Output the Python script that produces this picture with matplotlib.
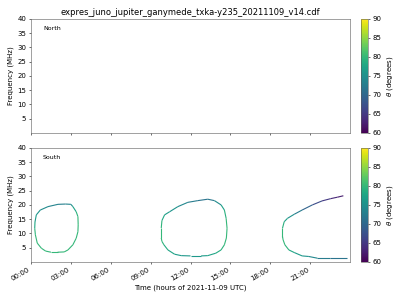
import numpy as np
import matplotlib
matplotlib.use("Agg")
import matplotlib.pyplot as plt
from matplotlib.collections import LineCollection
from matplotlib.cm import ScalarMappable
from matplotlib.colors import Normalize

TITLE = "expres_juno_jupiter_ganymede_txka-y235_20211109_v14.cdf"

# x tick positions (hours) and labels
hour_ticks = [0, 3, 6, 9, 12, 15, 18, 21]
hour_labels = ["00:00", "03:00", "06:00", "09:00", "12:00", "15:00", "18:00", "21:00"]
freq_ticks = [5, 10, 15, 20, 25, 30, 35, 40]
theta_ticks = [60, 65, 70, 75, 80, 85, 90]

# South hemisphere emission, three arcs: time (h), frequency (MHz), theta (deg)
loop1_t = [0.33, 0.28, 0.30, 0.40, 0.70, 1.28, 2.03, 2.60, 3.00, 3.15, 3.40, 3.53,
           3.55, 3.53, 3.40, 3.15, 2.78, 2.50, 2.00, 1.50, 1.10, 0.78, 0.47, 0.33]
loop1_f = [9.5, 11.8, 14.0, 16.5, 18.2, 19.4, 20.2, 20.3, 20.2, 19.4, 17.6, 15.9,
           13.0, 10.6, 8.3, 6.0, 4.2, 3.5, 3.4, 3.4, 3.8, 4.8, 6.6, 9.5]
loop1_th = [80, 79, 77, 76, 75, 74, 73, 73, 74, 76, 79, 80,
            80, 80, 80, 80, 80, 80, 80, 80, 80, 80, 80, 80]

loop2_t = [9.80, 9.80, 9.85, 10.05, 10.43, 11.05, 11.8, 12.55, 13.3, 13.8, 14.3, 14.55,
           14.68, 14.75, 14.7, 14.55, 14.3, 13.9, 13.3, 12.8, 12.0, 11.3, 10.8, 10.3,
           10.0, 9.85, 9.80]
loop2_f = [8.4, 11.9, 14.5, 16.5, 17.6, 19.4, 20.9, 21.5, 22.0, 21.5, 20.0, 18.2,
           15.3, 11.8, 8.4, 6.0, 4.2, 3.05, 2.2, 2.1, 2.1, 2.2, 2.7, 4.2,
           6.0, 7.2, 8.4]
loop2_th = [80, 80, 79, 77, 76, 75, 73, 72, 71, 73, 76, 78,
            80, 80, 80, 80, 79, 78, 77, 76, 76, 76, 77, 78,
            79, 80, 80]

loop3_t = [23.5, 23.05, 22.55, 21.9, 21.17, 20.4, 19.8, 19.3, 19.05, 18.92,
           18.92, 18.97, 19.1, 19.4, 19.8, 20.4, 20.9, 21.55, 22.5, 23.8]
loop3_f = [23.2, 22.7, 22.2, 21.4, 20.0, 18.2, 16.7, 15.3, 14.1, 11.8,
           8.9, 7.7, 6.0, 4.2, 3.3, 2.1, 1.9, 1.3, 1.3, 1.3]
loop3_th = [62, 63, 64, 66, 68, 71, 74, 76, 78, 80,
            80, 80, 80, 79, 77, 76, 75, 73, 72, 71]

norm = Normalize(vmin=60, vmax=90)
cmap = plt.get_cmap("viridis")


def add_arc(ax, t, f, th):
    pts = np.column_stack([t, f])
    segs = np.stack([pts[:-1], pts[1:]], axis=1)
    th = np.asarray(th, dtype=float)
    lc = LineCollection(segs, cmap=cmap, norm=norm, linewidths=1.6)
    lc.set_array((th[:-1] + th[1:]) / 2)
    ax.add_collection(lc)


def style_axis(ax, label):
    ax.set_xlim(0, 24)
    ax.set_ylim(0, 40)
    ax.set_yticks(freq_ticks)
    ax.set_xticks(hour_ticks)
    ax.set_ylabel("Frequency (MHz)")
    ax.text(0.038, 0.9, label, transform=ax.transAxes, fontsize=9)
    for s in ax.spines.values():
        s.set_color("0.35")


def add_colorbar(fig, rect):
    cax = fig.add_axes(rect)
    cb = fig.colorbar(ScalarMappable(norm=norm, cmap=cmap), cax=cax)
    cb.set_ticks(theta_ticks)
    cb.set_label(r"$\theta$ (degrees)")
    cb.outline.set_edgecolor("0.35")


fig = plt.figure(figsize=(8, 6), dpi=50)
ax_n = fig.add_axes([0.0775, 0.557, 0.7975, 0.38])
ax_s = fig.add_axes([0.0775, 0.127, 0.7975, 0.38])

style_axis(ax_n, "North")
ax_n.set_xticklabels([])
ax_n.set_title(TITLE, fontsize=12, pad=5)

style_axis(ax_s, "South")
add_arc(ax_s, loop1_t, loop1_f, loop1_th)
add_arc(ax_s, loop2_t, loop2_f, loop2_th)
add_arc(ax_s, loop3_t, loop3_f, loop3_th)
ax_s.set_xticklabels(hour_labels, rotation=30, ha="right")
ax_s.set_xlabel("Time (hours of 2021-11-09 UTC)")

add_colorbar(fig, [0.9025, 0.557, 0.0175, 0.38])
add_colorbar(fig, [0.9025, 0.127, 0.0175, 0.38])

fig.savefig("out.png", dpi=50)
